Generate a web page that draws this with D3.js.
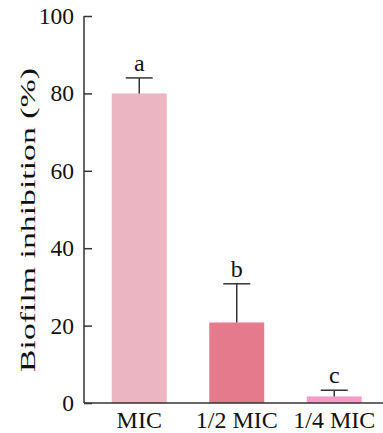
<!DOCTYPE html>
<html>
<head>
<meta charset="utf-8">
<script src="https://cdn.jsdelivr.net/npm/d3@7"></script>
<style>
  body { margin: 0; background: #fff; }
  text { font-family: "Liberation Serif", "Times New Roman", serif; fill: #111; }
</style>
</head>
<body>
<div id="chart"></div>
<script>
// Data
const groups = ["MIC", "1/2 MIC", "1/4 MIC"];
const means = [80, 20.8, 1.7];
const errors = [4, 10, 1.6];
const letters = ["a", "b", "c"];
const colors = ["#EBB5C1", "#E57A8C", "#F49CC6"];
const yTicks = [0, 20, 40, 60, 80, 100];

const width = 383;
const height = 433;

/*******************************/
/*    Append the containers    */
/*******************************/
const svg = d3.select("#chart")
  .append("svg")
    .attr("width", width)
    .attr("height", height);

/****************************/
/*    Declare the scales    */
/****************************/
const xScale = d3.scaleBand()
  .domain(groups)
  .range([90.5, 383])
  .paddingInner(0.436)
  .paddingOuter(0.218);

const yScale = d3.scaleLinear()
  .domain([0, 100])
  .range([403, 16]);

/***********************/
/*        Bars         */
/***********************/
svg.selectAll(".bar")
  .data(groups)
  .join("rect")
    .attr("class", "bar")
    .attr("x", d => xScale(d))
    .attr("y", (d, i) => yScale(means[i]))
    .attr("width", xScale.bandwidth())
    .attr("height", (d, i) => yScale(0) - yScale(means[i]))
    .attr("fill", (d, i) => colors[i]);

// Error bars (upper only)
const capHalf = 13.5;
const err = svg.append("g")
  .attr("stroke", "#333")
  .attr("stroke-width", 1.5);
groups.forEach((g, i) => {
  const cx = xScale(g) + xScale.bandwidth() / 2;
  err.append("line")
    .attr("x1", cx).attr("x2", cx)
    .attr("y1", yScale(means[i]))
    .attr("y2", yScale(means[i] + errors[i]));
  err.append("line")
    .attr("x1", cx - capHalf).attr("x2", cx + capHalf)
    .attr("y1", yScale(means[i] + errors[i]))
    .attr("y2", yScale(means[i] + errors[i]));
});

// Significance letters
svg.selectAll(".sig")
  .data(groups)
  .join("text")
    .attr("class", "sig")
    .attr("x", d => xScale(d) + xScale.bandwidth() / 2)
    .attr("y", (d, i) => yScale(means[i] + errors[i]) - 7)
    .attr("text-anchor", "middle")
    .attr("font-size", 24)
    .text((d, i) => letters[i]);

/***************************/
/*     Append the axes     */
/***************************/
const leftAxis = svg.append("g")
  .attr("transform", "translate(84, 0)")
  .call(d3.axisLeft(yScale).tickValues(yTicks).tickSize(-8).tickPadding(10).tickSizeOuter(0));
leftAxis.select(".domain").attr("stroke", "#333").attr("stroke-width", 1.5)
  .attr("d", `M0,${yScale(100)}V${yScale(0)}`);
leftAxis.selectAll(".tick line").attr("stroke", "#333").attr("stroke-width", 1.5);
leftAxis.selectAll(".tick text")
  .attr("font-size", 23.5)
  .attr("fill", "#111");

const bottomAxis = svg.append("g")
  .attr("transform", `translate(0, ${yScale(0)})`)
  .call(d3.axisBottom(xScale).tickSize(0).tickPadding(8).tickSizeOuter(0));
bottomAxis.select(".domain").attr("stroke", "#333").attr("stroke-width", 1.5)
  .attr("d", "M84,0H383");
bottomAxis.selectAll(".tick text")
  .attr("font-size", 24)
  .attr("fill", "#111");

// Y axis title, stretched along its length like the original
const yTitle = svg.append("text")
  .attr("text-anchor", "middle")
  .attr("font-size", 22)
  .text("Biofilm inhibition (%)");
const titleLen = yTitle.node().getComputedTextLength();
yTitle.attr("transform", `translate(35, 220) rotate(-90) scale(${304 / titleLen}, 1)`);
</script>
</body>
</html>
